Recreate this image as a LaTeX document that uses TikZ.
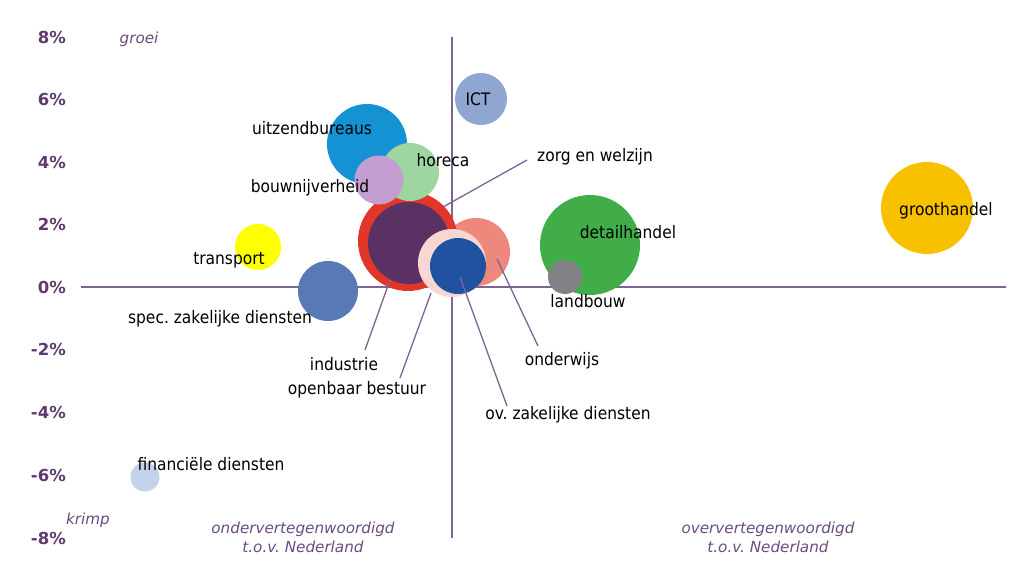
\documentclass[tikz,border=0pt]{standalone}
\usepackage{fontspec}
\setmainfont{DejaVu Sans Condensed}
\newfontfamily\axisfont{DejaVu Sans}
\frenchspacing
\definecolor{axisline}{HTML}{7E6395}
\definecolor{ticktext}{HTML}{5E3A6E}
\definecolor{notetext}{HTML}{6B4C82}
\definecolor{cICT}{HTML}{8FA6D2}
\definecolor{cUitz}{HTML}{1592D4}
\definecolor{cHoreca}{HTML}{9ED5A1}
\definecolor{cBouw}{HTML}{C39ED1}
\definecolor{cZorg}{HTML}{E2362B}
\definecolor{cInd}{HTML}{5A3163}
\definecolor{cOnderw}{HTML}{EE877C}
\definecolor{cOpenb}{HTML}{F8D6D2}
\definecolor{cOvZak}{HTML}{2151A1}
\definecolor{cDetail}{HTML}{41AD49}
\definecolor{cLand}{HTML}{808285}
\definecolor{cSpec}{HTML}{5878B6}
\definecolor{cTrans}{HTML}{FFFF00}
\definecolor{cGroot}{HTML}{F8C100}
\definecolor{cFin}{HTML}{C4D3E9}
\tikzset{
  bubble/.style={circle, draw=none, inner sep=0pt, minimum size=#1},
  lbl/.style={inner sep=0pt, text=black, font=\fontsize{17.2}{20}\selectfont},
  ticklbl/.style={anchor=east, inner sep=0pt, text=ticktext, font=\axisfont\bfseries\fontsize{16.5}{19}\selectfont},
  note/.style={inner sep=0pt, text=notetext, align=center, font=\axisfont\itshape\fontsize{15.2}{19}\selectfont},
  axis/.style={draw=axisline, line width=2pt},
  leader/.style={draw=axisline, line width=1.3pt}
}
\begin{document}
\begin{tikzpicture}[x=1pt,y=-1pt]
\useasboundingbox (0,0) rectangle (1020,562);

% axes
\coordinate (xl) at (81,287);
\coordinate (xr) at (1006,287);
\coordinate (yt) at (452,37);
\coordinate (yb) at (452,538);
\draw[axis] (xl) -- (xr);
\draw[axis] (yt) -- (yb);

% vertical tick labels
\foreach \v/\py in {8\%/37,6\%/99,4\%/162,2\%/224,0\%/287,-2\%/349,-4\%/412,-6\%/475,-8\%/538}
  \node[ticklbl] at (66,\py) {\v};

% quadrant notes
\node[note] (groei) at (139,39) {groei};
\node[note] (krimp) at (88,520) {krimp};
\node[note] (onder) at (303,537) {ondervertegenwoordigd\\t.o.v. Nederland};
\node[note] (over) at (768,537) {oververtegenwoordigd\\t.o.v. Nederland};

% bubbles
\node[bubble=52pt, fill=cICT] (ict) at (481,99) {};
\node[bubble=80pt, fill=cUitz] (uitz) at (367,144) {};
\node[bubble=68pt, fill=cOnderw] (onderw) at (476,252) {};
\node[bubble=100pt, fill=cZorg] (zorg) at (408,241) {};
\node[bubble=82pt, fill=cInd] (ind) at (409,243) {};
\node[bubble=58pt, fill=cHoreca] (horeca) at (410,172) {};
\node[bubble=49pt, fill=cBouw] (bouw) at (379,180) {};
\node[bubble=68pt, fill=cOpenb] (openb) at (452,263) {};
\node[bubble=56pt, fill=cOvZak] (ovzak) at (458,266) {};
\node[bubble=100pt, fill=cDetail] (detail) at (590,245) {};
\node[bubble=34pt, fill=cLand] (land) at (565,277) {};
\node[bubble=60pt, fill=cSpec] (spec) at (328,291) {};
\node[bubble=46pt, fill=cTrans] (trans) at (258,247) {};
\node[bubble=92pt, fill=cGroot] (groot) at (927,208) {};
\node[bubble=29pt, fill=cFin] (fin) at (145,477) {};

% labels
\node[lbl] (tICT) at (478,99) {ICT};
\node[lbl] (tUitz) at (312,128) {uitzendbureaus};
\node[lbl] (tHoreca) at (443,160) {horeca};
\node[lbl] (tBouw) at (310,188) {bouwnijverheid};
\node[lbl, anchor=west] (tZorg) at (537,157) {zorg en welzijn};
\node[lbl] (tDetail) at (628,232) {detailhandel};
\node[lbl] (tGroot) at (946,211) {groothandel};
\node[lbl] (tTrans) at (229,260) {transport};
\node[lbl] (tLand) at (588,301) {landbouw};
\node[lbl] (tSpec) at (220,319) {spec. zakelijke diensten};
\node[lbl] (tInd) at (344,364) {industrie};
\node[lbl] (tOpenb) at (357,390) {openbaar bestuur};
\node[lbl] (tOnderw) at (562,361) {onderwijs};
\node[lbl] (tOvZak) at (568,415) {ov. zakelijke diensten};
\node[lbl] (tFin) at (211,464) {financiële diensten};

% leader lines
\coordinate (zorgA) at (443,207);   \coordinate (zorgB) at (527,160);
\coordinate (indA) at (390,280);    \coordinate (indB) at (365,350);
\coordinate (openbA) at (431,293);  \coordinate (openbB) at (400,378);
\coordinate (ovzakA) at (460,277);  \coordinate (ovzakB) at (507,406);
\coordinate (onderwA) at (497,259); \coordinate (onderwB) at (538,346);
\draw[leader] (zorgA) -- (zorgB);
\draw[leader] (indA) -- (indB);
\draw[leader] (openbA) -- (openbB);
\draw[leader] (ovzakA) -- (ovzakB);
\draw[leader] (onderwA) -- (onderwB);
\end{tikzpicture}
\end{document}
